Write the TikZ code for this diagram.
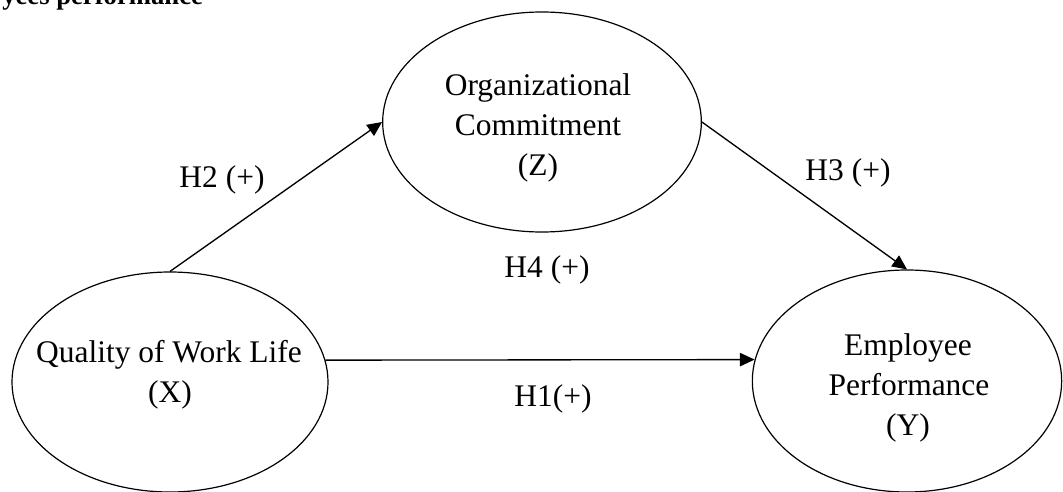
\documentclass[tikz,border=0pt]{standalone}
\usepackage{fontspec}
\setmainfont{Liberation Serif}
\usetikzlibrary{shapes.geometric,arrows.meta}
\begin{document}
\begin{tikzpicture}[x=0.75pt,y=-0.75pt,
  ell/.style={draw, ellipse, line width=0.9pt, inner sep=0pt},
  txt/.style={font=\fontsize{23.6}{30}\selectfont, inner sep=0pt, anchor=base},
  conn/.style={line width=1pt, -{Triangle[length=11pt,width=10pt]}}]
\clip (0,0) rectangle (1063,492);
\useasboundingbox (0,0) rectangle (1063,492);
\fill[white] (0,0) rectangle (1063,492);
% caption fragment
\node[font=\bfseries\fontsize{20}{24}\selectfont, inner sep=0pt, anchor=base west] (cap) at (2,5) {yees performance};
% ellipses
\node[ell, minimum width=237pt, minimum height=165pt] (X) at (170,382) {};
\node[ell, minimum width=239pt, minimum height=165pt] (Z) at (542,122) {};
\node[ell, minimum width=232pt, minimum height=166.5pt] (Y) at (907,381) {};
% texts
\node[txt] (X1) at (169,362) {Quality of Work Life};
\node[txt] (X2) at (170,402) {(X)};
\node[txt] (Z1) at (538,95) {Organizational};
\node[txt] (Z2) at (538,135) {Commitment};
\node[txt] (Z3) at (538,175) {(Z)};
\node[txt] (Y1) at (908,355) {Employee};
\node[txt] (Y2) at (909,395) {Performance};
\node[txt] (Y3) at (908,435) {(Y)};
% connectors
\draw[conn] (X.north) -- (Z.west);
\draw[conn] (Z.east) -- (Y.north);
\draw[conn] (X.8) -- (Y.172);
% labels
\node[txt] (h2) at (222,187) {H2 (+)};
\node[txt] (h3) at (848,180) {H3 (+)};
\node[txt] (h4) at (547,277) {H4 (+)};
\node[txt] (h1) at (553,406) {H1(+)};
\end{tikzpicture}
\end{document}
